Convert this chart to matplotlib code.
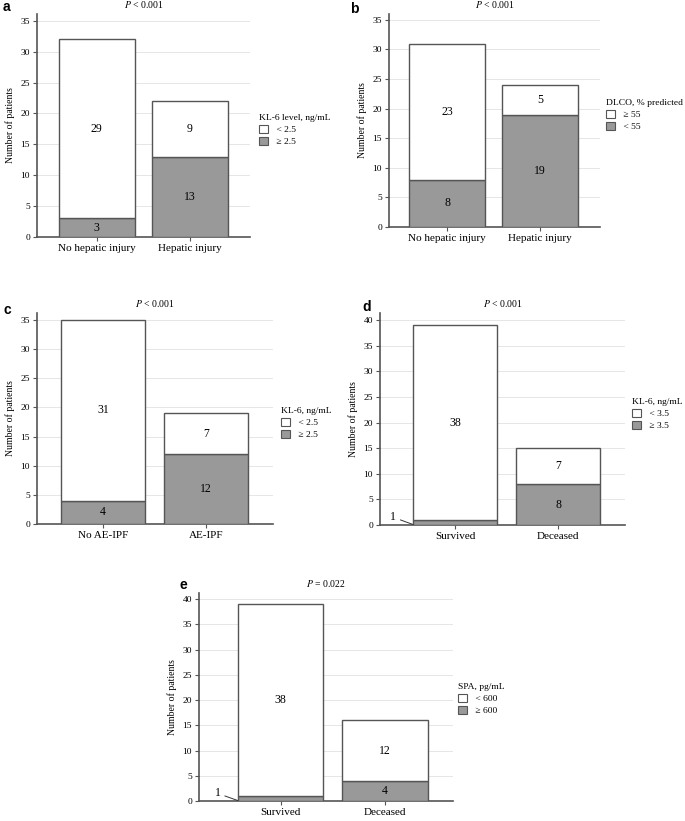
import matplotlib
matplotlib.use('Agg')
import matplotlib.pyplot as plt
from matplotlib.patches import Patch

plt.rcParams['font.family'] = ['Liberation Serif', 'DejaVu Serif']
plt.rcParams['mathtext.fontset'] = 'stix'

# data for each panel
cats_a = ['No hepatic injury', 'Hepatic injury']
gray_a = [3, 13]
white_a = [29, 9]

cats_b = ['No hepatic injury', 'Hepatic injury']
gray_b = [8, 19]
white_b = [23, 5]

cats_c = ['No AE-IPF', 'AE-IPF']
gray_c = [4, 12]
white_c = [31, 7]

cats_d = ['Survived', 'Deceased']
gray_d = [1, 8]
white_d = [38, 7]

cats_e = ['Survived', 'Deceased']
gray_e = [1, 4]
white_e = [38, 12]

W, H = 685, 821
fig = plt.figure(figsize=(W / 100, H / 100), dpi=100)

EDGE = '#555555'
GRAY = '#999999'


def px_axes(x0, y0, x1, y1):
    # pixel box (top-left origin) -> figure axes
    return fig.add_axes([x0 / W, 1 - y1 / H, (x1 - x0) / W, (y1 - y0) / H])


def panel(box, cats, gray, white, ymax, ytop, xl, ptxt, letter, letter_xy,
          leg_title, leg_labels, leg_xy, small_note=False):
    ax = px_axes(*box)
    x = [0, 1]
    ax.bar(x, gray, width=0.82, color=GRAY, edgecolor=EDGE, linewidth=1.0, zorder=3)
    ax.bar(x, white, bottom=gray, width=0.82, color='white', edgecolor=EDGE,
           linewidth=1.0, zorder=3)
    for i in x:
        if not (small_note and gray[i] == 1):
            ax.text(i, gray[i] / 2, str(gray[i]), ha='center', va='center',
                    fontsize=8.5, zorder=4)
        ax.text(i, gray[i] + white[i] / 2, str(white[i]), ha='center',
                va='center', fontsize=8.5, zorder=4)
    if small_note:
        # small segment labelled outside the bar with a leader line
        ax.annotate('1', xy=(-0.41, 0.1), xytext=(-0.6, 1.5), ha='center',
                    va='center', fontsize=8.5,
                    arrowprops=dict(arrowstyle='-', color='#333333', lw=0.7,
                                    shrinkA=1, shrinkB=0))
    ax.set_ylim(0, ytop)
    ax.set_xlim(xl, 1.65)
    ax.set_yticks(range(0, ymax + 1, 5))
    ax.set_xticks(x)
    ax.set_xticklabels(cats, fontsize=8)
    ax.tick_params(axis='y', labelsize=6.8, length=3, width=0.8, color=EDGE, pad=2)
    ax.tick_params(axis='x', length=3, width=0.8, color=EDGE, pad=2)
    for yv in range(5, ymax + 1, 5):
        ax.axhline(yv, color='#e6e6e6', lw=0.7, zorder=0)
    for s in ['top', 'right']:
        ax.spines[s].set_visible(False)
    for s in ['left', 'bottom']:
        ax.spines[s].set_color(EDGE)
        ax.spines[s].set_linewidth(1.2)
    ax.set_ylabel('Number of patients', fontsize=7, labelpad=4)
    ax.set_title(ptxt, fontsize=7, pad=4)
    fig.text(letter_xy[0] / W, 1 - letter_xy[1] / H, letter, fontsize=10,
             fontweight='bold', family='Liberation Sans', ha='left', va='center')
    handles = [Patch(facecolor='white', edgecolor=EDGE, lw=0.8),
               Patch(facecolor=GRAY, edgecolor=EDGE, lw=0.8)]
    ax.legend(handles, leg_labels, title=leg_title, loc='upper left',
              bbox_to_anchor=(leg_xy[0] / W, 1 - leg_xy[1] / H),
              bbox_transform=fig.transFigure, frameon=False, fontsize=6.8,
              title_fontsize=6.8, alignment='left', handlelength=1.0,
              handleheight=0.9, handletextpad=0.6, labelspacing=0.3,
              borderpad=0, borderaxespad=0)
    return ax


panel((37, 14, 250, 237), cats_a, gray_a, white_a, 35, 36.1, -0.645,
      r'$P$ < 0.001', 'a', (3, 7), 'KL-6 level, ng/mL', [' < 2.5', ' ≥ 2.5'],
      (259, 114))
panel((389, 14, 600, 227), cats_b, gray_b, white_b, 35, 36.0, -0.63,
      r'$P$ < 0.001', 'b', (350, 9), 'DLCO, % predicted', [' ≥ 55', ' < 55'],
      (606, 99))
panel((37, 313, 273, 524), cats_c, gray_c, white_c, 35, 36.2, -0.64,
      r'$P$ < 0.001', 'c', (3, 310), 'KL-6, ng/mL', [' < 2.5', ' ≥ 2.5'],
      (281, 407))
panel((380, 313, 625, 525), cats_d, gray_d, white_d, 40, 41.4, -0.73,
      r'$P$ < 0.001', 'd', (362, 307), 'KL-6, ng/mL', [' < 3.5', ' ≥ 3.5'],
      (632, 398), small_note=True)
panel((199, 593, 453, 801), cats_e, gray_e, white_e, 40, 41.2, -0.78,
      r'$P$ = 0.022', 'e', (179, 585), 'SPA, pg/mL', [' < 600', ' ≥ 600'],
      (458, 683), small_note=True)

fig.savefig('out.png', dpi=100)
